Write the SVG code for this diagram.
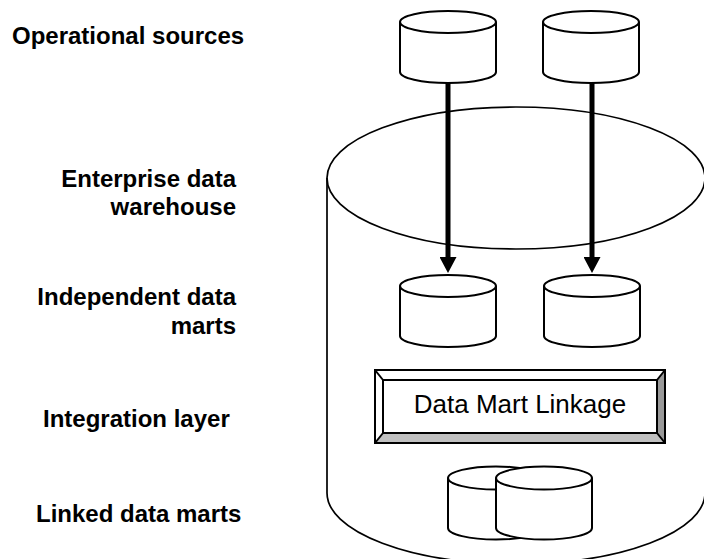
<svg xmlns="http://www.w3.org/2000/svg" width="704" height="559" viewBox="0 0 704 559">
  <style>
    .label { font-family: "Liberation Sans", Arial, sans-serif; font-weight: bold; font-size: 24px; fill: #000; }
    .right { text-anchor: end; }
    .cyl { fill: #fff; stroke: #000; stroke-width: 2; stroke-linejoin: round; }
    .rim { fill: none; stroke: #000; stroke-width: 2; }
    .big { fill: #fff; stroke: #000; stroke-width: 1.7; }
    .bigrim { fill: none; stroke: #000; stroke-width: 1.7; }
    .flow { stroke: #000; stroke-width: 5; fill: none; }
    .edge { stroke: #000; stroke-width: 2; stroke-linejoin: miter; }
    .boxtext { font-family: "Liberation Sans", Arial, sans-serif; font-size: 26px; fill: #000; text-anchor: middle; }
  </style>
  <defs>
    <marker id="arrowhead" markerUnits="userSpaceOnUse" markerWidth="17" markerHeight="17" viewBox="0 0 16 17" refX="0" refY="8.5" orient="auto">
      <path d="M0,0 L16,8.5 L0,17 Z" fill="#000"/>
    </marker>
  </defs>

  <rect width="704" height="559" fill="#fff"/>

  <!-- layer captions -->
  <g id="captions">
    <text class="label" x="12" y="44">Operational sources</text>
    <text class="label right" x="236" y="187">Enterprise data</text>
    <text class="label right" x="236" y="215">warehouse</text>
    <text class="label right" x="236" y="305">Independent data</text>
    <text class="label right" x="236" y="334">marts</text>
    <text class="label" x="43" y="427">Integration layer</text>
    <text class="label" x="36" y="522">Linked data marts</text>
  </g>

  <!-- enterprise data warehouse: large cylinder holding the marts -->
  <g id="warehouse">
    <path class="big" d="M327,178 A189,71 0 0 1 705,178 V493 A189,71 0 0 1 327,493 Z"/>
    <path class="bigrim" d="M327,178 A189,71 0 0 0 705,178"/>
  </g>

  <!-- operational sources -->
  <g id="source-1">
    <path class="cyl" d="M400,22 A48,11 0 0 1 496,22 V72 A48,11 0 0 1 400,72 Z"/>
    <path class="rim" d="M400,22 A48,11 0 0 0 496,22"/>
  </g>
  <g id="source-2">
    <path class="cyl" d="M543,22 A48,11 0 0 1 639,22 V72 A48,11 0 0 1 543,72 Z"/>
    <path class="rim" d="M543,22 A48,11 0 0 0 639,22"/>
  </g>

  <!-- feeds from sources into the independent marts -->
  <g id="connectors">
    <line class="flow" x1="448" y1="83" x2="448" y2="257" marker-end="url(#arrowhead)"/>
    <line class="flow" x1="592" y1="83" x2="592" y2="257" marker-end="url(#arrowhead)"/>
  </g>

  <!-- independent data marts -->
  <g id="mart-1">
    <path class="cyl" d="M400,286 A48,11 0 0 1 496,286 V336 A48,11 0 0 1 400,336 Z"/>
    <path class="rim" d="M400,286 A48,11 0 0 0 496,286"/>
  </g>
  <g id="mart-2">
    <path class="cyl" d="M544,286 A48,11 0 0 1 640,286 V336 A48,11 0 0 1 544,336 Z"/>
    <path class="rim" d="M544,286 A48,11 0 0 0 640,286"/>
  </g>

  <!-- integration layer: bevelled button -->
  <g id="linkage">
    <rect x="375" y="370" width="290" height="73" fill="#fff"/>
    <polygon points="657,380 665,370 665,443 657,433" fill="#999"/>
    <polygon points="383,433 657,433 665,443 375,443" fill="#c0c0c0"/>
    <rect x="375" y="370" width="290" height="73" fill="none" class="edge"/>
    <rect x="383" y="380" width="274" height="53" fill="#fff" class="edge"/>
    <line class="edge" x1="375" y1="370" x2="383" y2="380"/>
    <line class="edge" x1="665" y1="370" x2="657" y2="380"/>
    <line class="edge" x1="375" y1="443" x2="383" y2="433"/>
    <line class="edge" x1="665" y1="443" x2="657" y2="433"/>
    <text class="boxtext" x="520" y="413">Data Mart Linkage</text>
  </g>

  <!-- linked data marts -->
  <g id="linked-1">
    <path class="cyl" d="M448,478 A48,11.5 0 0 1 544,478 V528 A48,11.5 0 0 1 448,528 Z"/>
    <path class="rim" d="M448,478 A48,11.5 0 0 0 544,478"/>
  </g>
  <g id="linked-2">
    <path class="cyl" d="M496,478 A48,11.5 0 0 1 592,478 V528 A48,11.5 0 0 1 496,528 Z"/>
    <path class="rim" d="M496,478 A48,11.5 0 0 0 592,478"/>
  </g>
</svg>
